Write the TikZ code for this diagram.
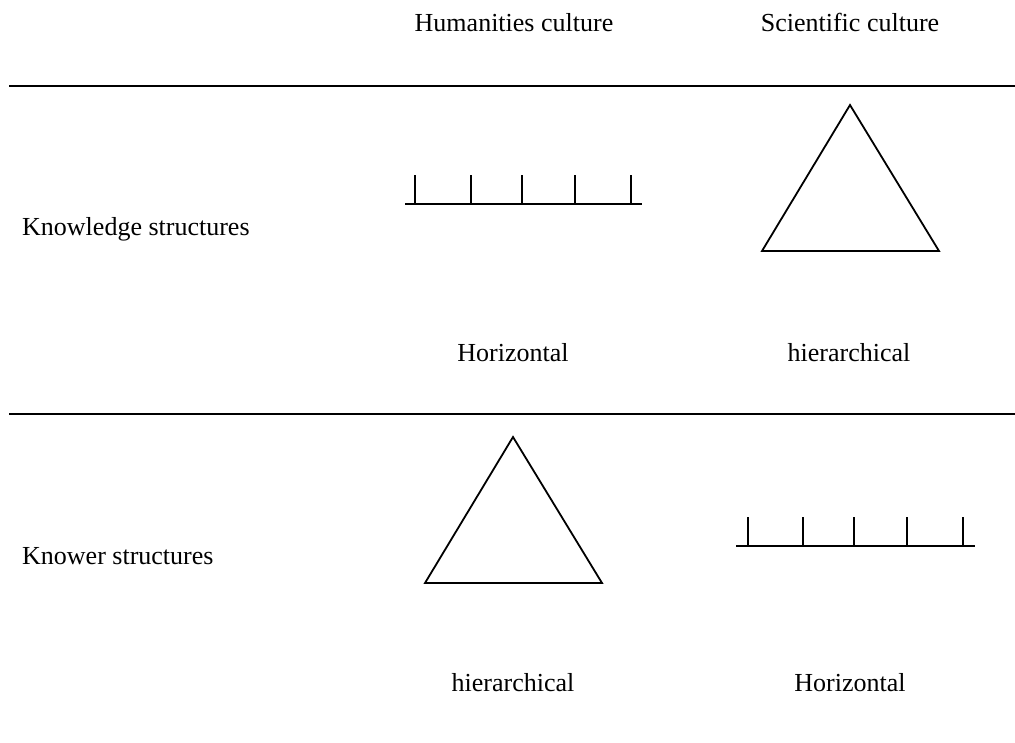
\documentclass[tikz,border=0pt]{standalone}
\usepackage{fontspec}
\setmainfont{Liberation Serif}
\usepackage{tikz}
\usetikzlibrary{positioning}

\begin{document}
\begin{tikzpicture}[
    x=1pt, y=-1pt,
    lbl/.style={inner sep=0pt, anchor=base, font=\fontsize{26}{31}\selectfont},
    rowlbl/.style={lbl, anchor=base west},
    rule/.style={line width=2.2pt},
    figline/.style={line width=1.8pt, line join=miter}
]
\useasboundingbox (0,0) rectangle (1015,742);

% column heads
\node[lbl] (hum) at (514,31) {Humanities culture};
\node[lbl] (sci) at (850,31) {Scientific culture};

% row heads
\node[rowlbl] (knowledge) at (22,235) {Knowledge structures};
\node[rowlbl] (knower) at (22,564) {Knower structures};

% captions under the figures
\node[lbl] (horizA) at (513,361) {Horizontal};
\node[lbl] (hierA) at (849,361) {hierarchical};
\node[lbl] (hierB) at (513,691) {hierarchical};
\node[lbl] (horizB) at (850,691) {Horizontal};

% rules
\draw[rule] (9,86) -- (1015,86);
\draw[rule] (9,414) -- (1015,414);

% knowledge: flat comb and triangle
\draw[figline] (405,204) -- (642,204);
\foreach \tx in {415,471,522,575,631}
    \draw[figline] (\tx,204) -- (\tx,175);
\draw[figline] (850,105) -- (939,251) -- (762,251) -- cycle;

% knower: triangle and flat comb
\draw[figline] (513,437) -- (602,583) -- (425,583) -- cycle;
\draw[figline] (736,546) -- (975,546);
\foreach \tx in {748,803,854,907,963}
    \draw[figline] (\tx,546) -- (\tx,517);
\end{tikzpicture}
\end{document}
